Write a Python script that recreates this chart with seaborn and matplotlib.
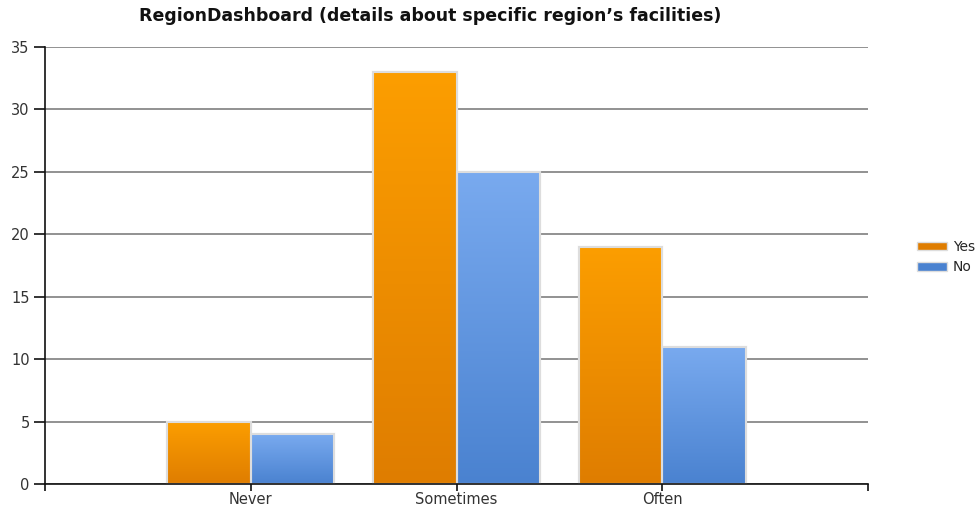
import numpy as np
import pandas as pd
import matplotlib
matplotlib.use("Agg")
import matplotlib.pyplot as plt
import matplotlib.patches as mpatches
from matplotlib.colors import LinearSegmentedColormap
import seaborn as sns

# data
categories = ["Never", "Sometimes", "Often"]
yes_values = [5, 33, 19]
no_values = [4, 25, 11]
series = ["Yes", "No"]

df = pd.DataFrame({
    "category": categories * 2,
    "answer": ["Yes"] * 3 + ["No"] * 3,
    "count": yes_values + no_values,
})

sns.set_theme(style="white")
plt.rcParams['font.family'] = ['DejaVu Sans']

# top / bottom colours of the gradient fills
grad = {
    "Yes": ("#FC9E00", "#DF7D00"),
    "No": ("#79AAEF", "#4A82D0"),
}
palette = {"Yes": "#F39200", "No": "#6699E0"}

fig = plt.figure(figsize=(9.8, 5.08), dpi=100)
ax = fig.add_axes([45 / 980, 1 - 484 / 508, (868 - 45) / 980, (484 - 47) / 508])

sns.barplot(data=df, x="category", y="count", hue="answer", order=categories,
            hue_order=series, palette=palette, width=0.81, saturation=1,
            edgecolor="#DDDDDD", linewidth=1.5, legend=False, ax=ax)

# gradient fill inside each bar
for i, bars in enumerate(ax.containers):
    top, bottom = grad[series[i]]
    cmap = LinearSegmentedColormap.from_list(series[i], [bottom, top])
    for bar in bars:
        x0, y0 = bar.get_x(), bar.get_y()
        w, h = bar.get_width(), bar.get_height()
        img = ax.imshow(np.linspace(0, 1, 256).reshape(-1, 1), cmap=cmap,
                        extent=[x0, x0 + w, y0, y0 + h], origin="lower",
                        aspect="auto", zorder=bar.get_zorder() + 0.1)
        img.set_clip_path(bar)
        edge = mpatches.Rectangle((x0, y0), w, h, fill=False, edgecolor="#DDDDDD",
                                  linewidth=1.5, zorder=bar.get_zorder() + 0.2)
        ax.add_patch(edge)

ax.set_xlim(-1, 3)
ax.set_ylim(0, 35)
ax.set_yticks(range(0, 36, 5))
ax.set_xticks(range(len(categories)))
ax.set_xticks([-1, 3], minor=True)
ax.set_xticklabels(categories)
ax.set_xlabel("")
ax.set_ylabel("")

ax.yaxis.grid(True, color="#7F7F7F", linewidth=1.2)
ax.set_axisbelow(True)
for s in ["top", "right"]:
    ax.spines[s].set_visible(False)
ax.spines["left"].set_color("#111111")
ax.spines["bottom"].set_color("#111111")
ax.spines["left"].set_linewidth(1.2)
ax.spines["bottom"].set_linewidth(1.2)

ax.tick_params(axis="y", direction="out", length=8, width=1.2, left=True,
               color="#111111", labelsize=10.5, labelcolor="#333333", pad=3)
ax.tick_params(axis="x", which="both", direction="out", bottom=True, length=5, width=1.2,
               color="#111111", labelsize=10.5, labelcolor="#333333", pad=0.5)

fig.text(430 / 980, 1 - 16 / 508, "RegionDashboard (details about specific region\u2019s facilities)",
         ha="center", va="center", fontsize=12.5, fontweight="bold", color="#111111")

handles = [mpatches.Patch(facecolor=grad[s][1], edgecolor="#DDDDDD", label=s) for s in series]
fig.legend(handles=handles, loc="center left", bbox_to_anchor=(911 / 980, 1 - 257 / 508),
           frameon=False, fontsize=10, handlelength=2.2, handleheight=0.6,
           handletextpad=0.4, labelspacing=0.45, borderaxespad=0)

fig.savefig("out.png", dpi=100)
